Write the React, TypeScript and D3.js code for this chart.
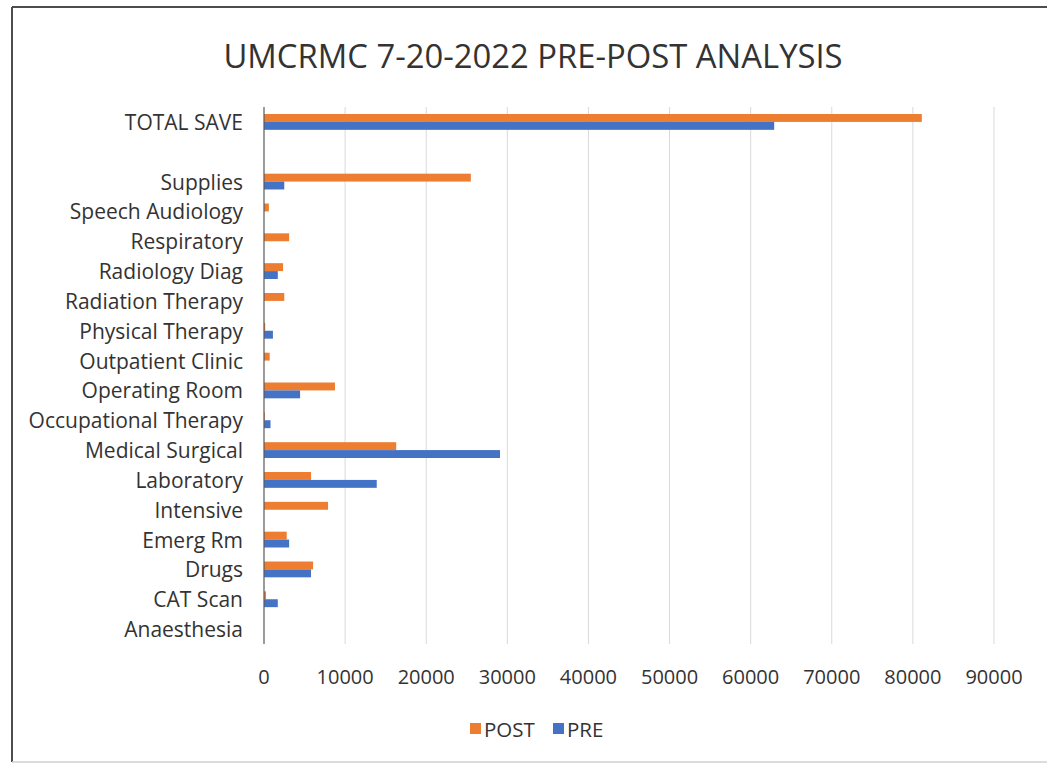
import React from "react";
import * as d3 from "d3";

const categories = [
  "TOTAL SAVE",
  "",
  "Supplies",
  "Speech Audiology",
  "Respiratory",
  "Radiology Diag",
  "Radiation Therapy",
  "Physical Therapy",
  "Outpatient Clinic",
  "Operating Room",
  "Occupational Therapy",
  "Medical Surgical",
  "Laboratory",
  "Intensive",
  "Emerg Rm",
  "Drugs",
  "CAT Scan",
  "Anaesthesia",
];

const postValues = [81100, 0, 25500, 600, 3100, 2350, 2500, 150, 700, 8750, 100, 16300, 5800, 7900, 2800, 6050, 250, 0];
const preValues = [62900, 0, 2500, 0, 0, 1700, 0, 1100, 0, 4450, 800, 29100, 13900, 0, 3100, 5800, 1700, 0];

const xTicks = [0, 10000, 20000, 30000, 40000, 50000, 60000, 70000, 80000, 90000];
const seriesNames = ["POST", "PRE"];
const seriesColors = ["#ED7D31", "#4472C4"];

const W = 1047;
const H = 765;
const FONT = "'Open Sans', sans-serif";

export default function App() {
  const left = 264;
  const right = 994;
  const top = 107;
  const bottom = 644;

  const x = d3.scaleLinear().domain([0, 90000]).range([left, right]);
  const y = d3
    .scaleBand<string>()
    .domain(categories.map((c, i) => String(i)))
    .range([top, bottom])
    .paddingInner(0.47)
    .paddingOuter(0.235);
  const sub = d3
    .scaleBand<string>()
    .domain(seriesNames)
    .range([0, y.bandwidth()]);

  const seriesData = [postValues, preValues];

  return (
    <svg
      width={W}
      height={H}
      style={{ position: "absolute", left: 0, top: 0, background: "#fff" }}
      fontFamily={FONT}
    >
      <rect x={0} y={0} width={W} height={H} fill="#fff" />
      {/* frame */}
      <line x1={12} y1={7} x2={W} y2={7} stroke="#4d4d4d" strokeWidth={2} />
      <line x1={12} y1={7} x2={12} y2={762} stroke="#4d4d4d" strokeWidth={2} />
      <line x1={12} y1={762} x2={W} y2={762} stroke="#d0d0d0" strokeWidth={1.5} />

      <text
        x={533}
        y={55}
        textAnchor="middle"
        dominantBaseline="central"
        fontSize={32.8}
        fill="#333"
      >
        UMCRMC 7-20-2022 PRE-POST ANALYSIS
      </text>

      {/* gridlines */}
      {xTicks.slice(1).map((t) => (
        <line
          key={t}
          x1={x(t)}
          x2={x(t)}
          y1={top}
          y2={bottom}
          stroke="#d9d9d9"
          strokeWidth={1}
        />
      ))}

      {/* bars */}
      {seriesData.map((vals, si) =>
        vals.map((v, i) =>
          v > 0 ? (
            <rect
              key={`${si}-${i}`}
              x={x(0)}
              y={(y(String(i)) as number) + (sub(seriesNames[si]) as number)}
              width={x(v) - x(0)}
              height={sub.bandwidth()}
              fill={seriesColors[si]}
            />
          ) : null
        )
      )}

      {/* axis line */}
      <line x1={left} x2={left} y1={top} y2={bottom} stroke="#595959" strokeWidth={1.2} />

      {/* category labels */}
      {categories.map((c, i) => (
        <text
          key={i}
          x={243}
          y={(y(String(i)) as number) + y.bandwidth() / 2}
          textAnchor="end"
          dominantBaseline="central"
          fontSize={21}
          fill="#333"
        >
          {c}
        </text>
      ))}

      {/* x tick labels */}
      {xTicks.map((t) => (
        <text
          key={t}
          x={x(t)}
          y={676}
          textAnchor="middle"
          dominantBaseline="central"
          fontSize={20}
          fill="#333"
        >
          {t}
        </text>
      ))}

      {/* legend */}
      {seriesNames.map((n, i) => {
        const lx = [470, 553][i];
        return (
          <g key={n}>
            <rect x={lx} y={723} width={11} height={11} fill={seriesColors[i]} />
            <text x={lx + 14} y={729} dominantBaseline="central" fontSize={20.5} fill="#333">
              {n}
            </text>
          </g>
        );
      })}
    </svg>
  );
}
